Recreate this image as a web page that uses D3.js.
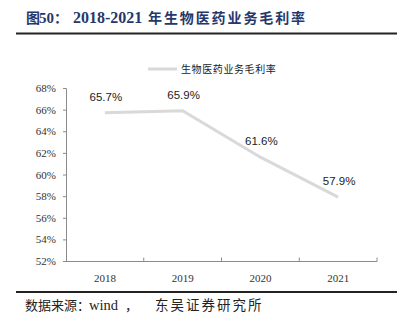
<!DOCTYPE html>
<html><head><meta charset="utf-8">
<script src="https://cdn.jsdelivr.net/npm/d3@7/dist/d3.min.js"></script>
<style>body{margin:0;background:#fff}svg{display:block}</style>
</head><body>
<script>
const categories = ["2018", "2019", "2020", "2021"];
const values = [65.7, 65.9, 61.6, 57.9];
const yTicks = [52, 54, 56, 58, 60, 62, 64, 66, 68];
const seriesName = "生物医药业务毛利率";
const titleParts = ["图", "50", "：", "2018-2021", "年生物医药业务毛利率"];
const sourceParts = ["数据来源：", "wind", "，", "东吴证券研究所"];

const W = 408, H = 327;
const svg = d3.select("body").append("svg").attr("width", W).attr("height", H);
const CJK = "'Noto Sans CJK SC',sans-serif";
const SERIF = "'Liberation Serif',serif";

// title
const t = svg.append("text").attr("y", 23).attr("font-weight", "bold").attr("fill", "#26386a");
t.append("tspan").attr("x", 26).attr("font-family", CJK).attr("font-size", 14).text(titleParts[0]);
t.append("tspan").attr("x", 39).attr("font-family", SERIF).attr("font-size", 15).text(titleParts[1]);
t.append("tspan").attr("x", 54).attr("font-family", CJK).attr("font-size", 14).text(titleParts[2]);
t.append("tspan").attr("x", 73).attr("font-family", SERIF).attr("font-size", 16).text(titleParts[3]);
t.append("tspan").attr("x", 148).attr("font-family", CJK).attr("font-size", 14).attr("letter-spacing", 1.9).text(titleParts[4]);

svg.append("line").attr("x1", 16).attr("x2", 397).attr("y1", 33.5).attr("y2", 33.5)
  .attr("stroke", "#222").attr("stroke-width", 2);
svg.append("line").attr("x1", 16).attr("x2", 397).attr("y1", 292).attr("y2", 292)
  .attr("stroke", "#222").attr("stroke-width", 2);

// source
const s = svg.append("text").attr("y", 310).attr("fill", "#222");
s.append("tspan").attr("x", 25).attr("font-family", CJK).attr("font-size", 13).text(sourceParts[0]);
s.append("tspan").attr("x", 89).attr("font-family", SERIF).attr("font-size", 14.5).text(sourceParts[1]);
s.append("tspan").attr("x", 125).attr("font-family", CJK).attr("font-size", 13).text(sourceParts[2]);
s.append("tspan").attr("x", 155).attr("font-family", CJK).attr("font-size", 13.5).attr("letter-spacing", 2).text(sourceParts[3]);

const x = d3.scaleBand().domain(categories).range([66, 377]);
const y = d3.scaleLinear().domain([52, 68]).range([261, 88]);

// y axis
const ya = svg.append("g").attr("transform", "translate(66,0)")
  .call(d3.axisLeft(y).tickValues(yTicks).tickFormat(d => d + "%").tickSize(3).tickPadding(7));
ya.selectAll("path,line").attr("stroke", "#8c8c8c");
ya.select(".domain").attr("d", "M-3,88.5H0.5V261.5");
ya.selectAll("text").attr("font-family", SERIF).attr("font-size", 11).attr("fill", "#333");

// x axis
const xa = svg.append("g").attr("transform", "translate(0,261.5)")
  .call(d3.axisBottom(x).tickSize(0).tickPadding(13));
xa.select(".domain").attr("stroke", "#8c8c8c").attr("d", "M66,0H377");
xa.selectAll("text").attr("font-family", SERIF).attr("font-size", 11).attr("fill", "#333");
const bounds = categories.map(c => x(c)).concat([x.range()[1]]);
xa.selectAll(".bt").data(bounds.slice(1)).enter().append("line")
  .attr("x1", d => d).attr("x2", d => d).attr("y1", 0).attr("y2", -4)
  .attr("stroke", "#8c8c8c");

// line
const pts = categories.map((c, i) => [x(c) + x.bandwidth() / 2, y(values[i])]);
svg.append("path").datum(pts).attr("d", d3.line())
  .attr("fill", "none").attr("stroke", "#d9d9d9").attr("stroke-width", 3);

// labels
svg.selectAll(".lbl").data(pts).enter().append("text")
  .attr("x", d => d[0] + 1).attr("y", d => d[1] - 12)
  .attr("text-anchor", "middle")
  .attr("font-family", "'Liberation Sans',Arial,sans-serif").attr("font-size", 11.5).attr("fill", "#222")
  .text((d, i) => values[i].toFixed(1) + "%");

// legend
svg.append("line").attr("x1", 148).attr("x2", 177).attr("y1", 69).attr("y2", 69)
  .attr("stroke", "#d9d9d9").attr("stroke-width", 3);
svg.append("text").attr("x", 181).attr("y", 73)
  .attr("font-family", CJK).attr("font-size", 10).attr("letter-spacing", 0.6).attr("fill", "#222")
  .text(seriesName);
</script>
</body></html>
